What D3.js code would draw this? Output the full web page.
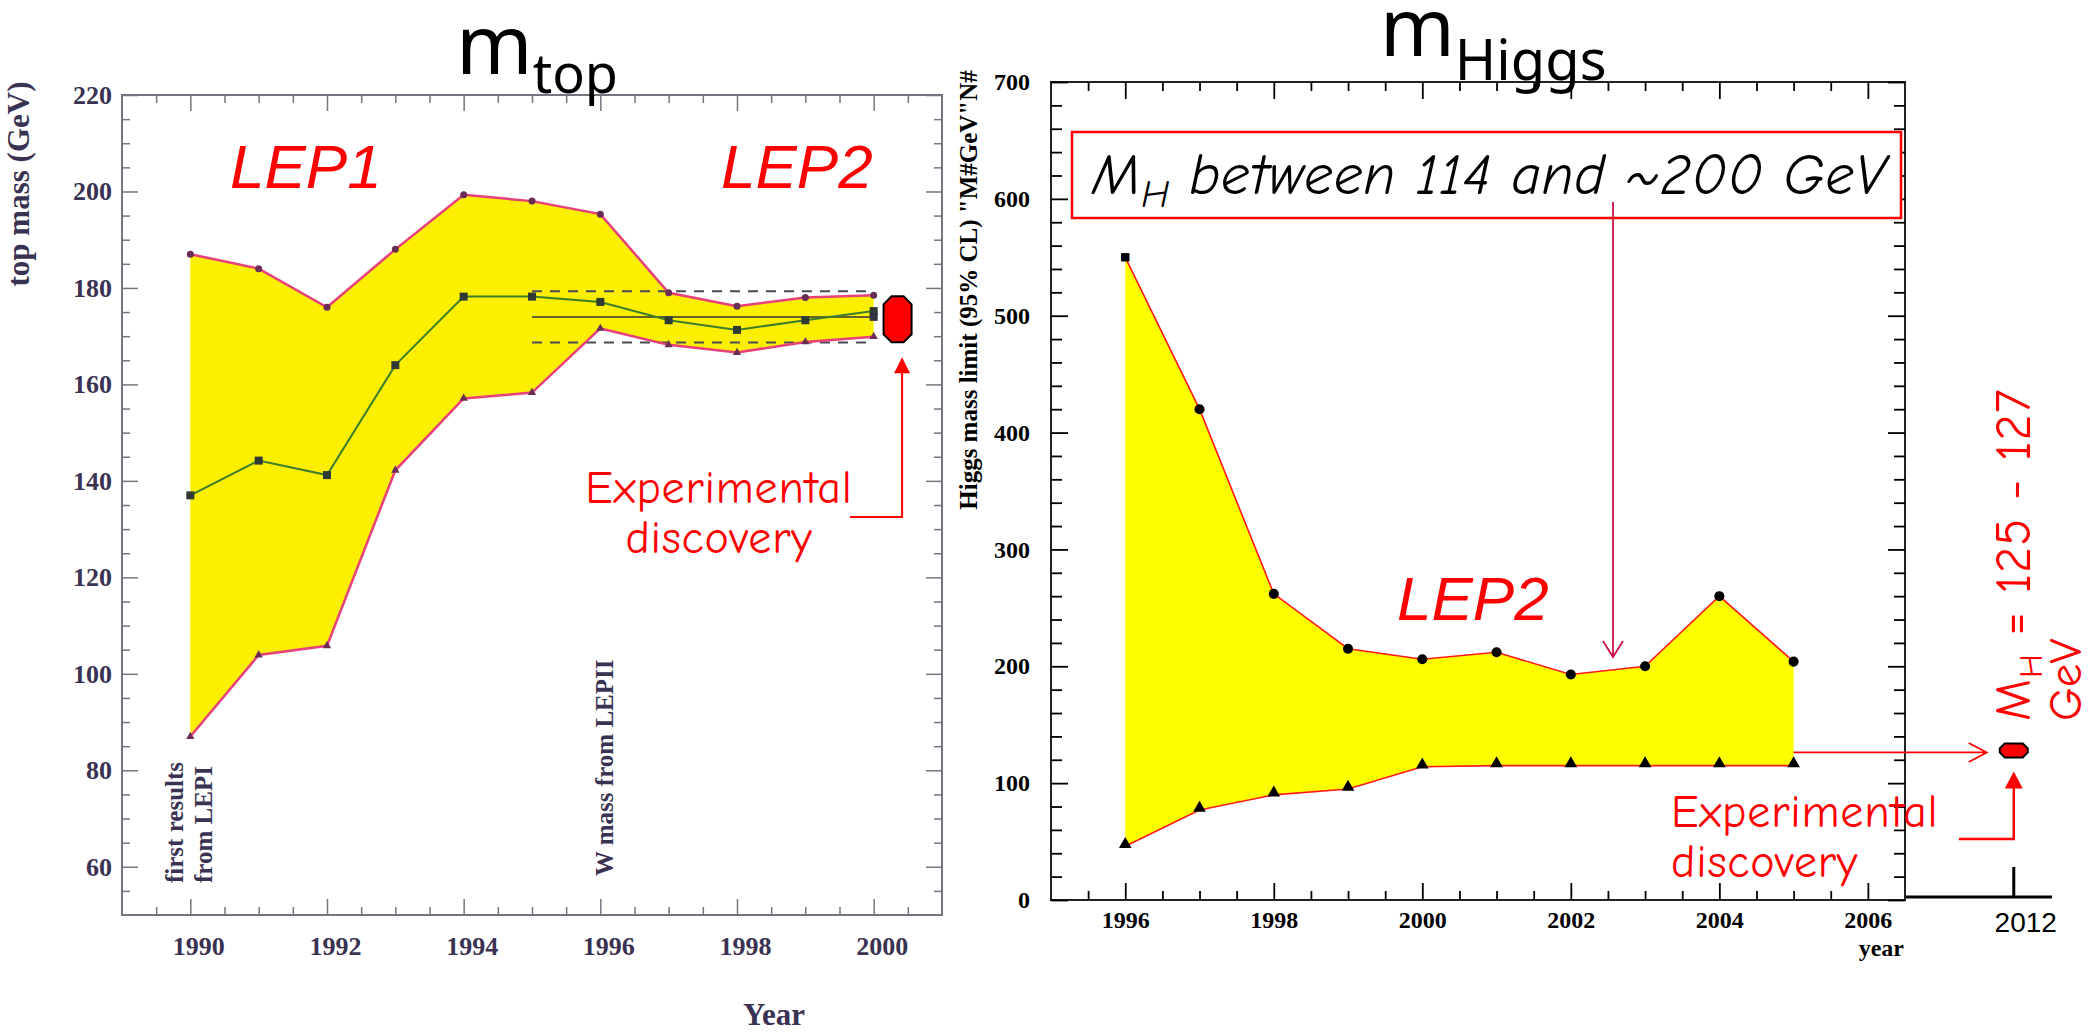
<!DOCTYPE html>
<html>
<head>
<meta charset="utf-8">
<script src="https://cdn.jsdelivr.net/npm/d3@7/dist/d3.min.js"></script>
<style>
  body { margin: 0; background: #fff; }
  svg { display: block; }
</style>
</head>
<body>
<svg id="chart" width="2095" height="1034"></svg>
<script>
// ---- m_top : LEP fits of the top mass ----
const topYears   = [1990, 1991, 1992, 1993, 1994, 1995, 1996, 1997, 1998, 1999, 2000]
const topUpper   = [187, 184, 176, 188, 199.3, 198, 195.3, 179, 176.2, 178, 178.5]
const topCentral = [137, 144.2, 141.2, 164, 178.2, 178.2, 177.1, 173.3, 171.3, 173.3, 175.2]
const topLower   = [87, 103.9, 105.8, 142.2, 157.1, 158.3, 171.6, 168.2, 166.6, 168.8, 169.9]
const topFitYears = [1995, 2000]
const topFitLow = 168.7, topFitMid = 174, topFitHigh = 179.3
const topMeasuredYear = 2000.35
const topMeasured = 173.5
const topYTicks = [60, 80, 100, 120, 140, 160, 180, 200, 220]
const topXTicks = [1990, 1992, 1994, 1996, 1998, 2000]

// ---- m_Higgs : allowed range per year ----
const higgsYears = [1996, 1997, 1998, 1999, 2000, 2001, 2002, 2003, 2004, 2005]
const higgsUpper = [550, 420, 262, 215, 206, 212, 193, 200, 260, 204]
const higgsLower = [46, 77, 90, 95, 114, 115, 115, 115, 115, 115]
const higgsYTicks = [0, 100, 200, 300, 400, 500, 600, 700]
const higgsXTicks = [1996, 1998, 2000, 2002, 2004, 2006]
const discoveryYear = 2012
const higgsMeasured = 128

const svg = d3.select("#chart")
const RED = "#ff0000"
const comic = "'Comic Sans MS','Comic Neue','Noto Sans',sans-serif"
const serif = "'Liberation Serif','Times New Roman',serif"
const sans = "'Noto Sans',sans-serif"

function octagon(cx, cy, w, h, c) {
  let x0 = cx - w/2, x1 = cx + w/2, y0 = cy - h/2, y1 = cy + h/2
  return "M" + (x0+c) + "," + y0 + "L" + (x1-c) + "," + y0 + "L" + x1 + "," + (y0+c) +
    "L" + x1 + "," + (y1-c) + "L" + (x1-c) + "," + y1 + "L" + (x0+c) + "," + y1 +
    "L" + x0 + "," + (y1-c) + "L" + x0 + "," + (y0+c) + "Z"
}

function styleAxis(g, color, width, font, size, weight, dx) {
  g.select(".domain").remove()
  g.selectAll("line").attr("stroke", color).attr("stroke-width", width)
  g.selectAll("text").attr("fill", color === "#000" ? "#000" : "#3a3252")
    .style("font-family", font).style("font-size", size + "px").style("font-weight", weight)
  if (dx) g.selectAll("text").attr("dx", dx)
}

function halfSteps(a, b) {
  let out = []
  for (let v = a; v <= b + 1e-9; v += 0.5) out.push(v)
  return out
}

// ================= LEFT: top mass =================
let xT = d3.scaleLinear().domain([1989, 2001]).range([122, 942])
let yT = d3.scaleLinear().domain([50, 220]).range([915, 95])
let axisGray = "#77737f"
let left = svg.append("g")

let topRows = topYears.map(function(yr, i) {
  return {year: yr, hi: topUpper[i], mid: topCentral[i], lo: topLower[i]}
})

// band
left.append("path").datum(topRows)
  .attr("fill", "#fdef00")
  .attr("d", d3.area().x(d => xT(d.year)).y0(d => yT(d.lo)).y1(d => yT(d.hi)))

// fit band dashed lines + central line
left.selectAll(".fitdash").data([topFitLow, topFitHigh]).enter().append("line")
  .attr("x1", xT(topFitYears[0])).attr("x2", xT(topFitYears[1]))
  .attr("y1", d => yT(d)).attr("y2", d => yT(d))
  .attr("stroke", "#4a4a55").attr("stroke-width", 2).attr("stroke-dasharray", "10,8")
left.append("line")
  .attr("x1", xT(topFitYears[0])).attr("x2", xT(topFitYears[1]))
  .attr("y1", yT(topFitMid)).attr("y2", yT(topFitMid))
  .attr("stroke", "#333").attr("stroke-width", 1.5)

// upper / lower limits
;["hi", "lo"].forEach(function(k) {
  left.append("path").datum(topRows)
    .attr("fill", "none").attr("stroke", "#e8407a").attr("stroke-width", 2.5)
    .attr("d", d3.line().x(d => xT(d.year)).y(d => yT(d[k])))
})
left.selectAll(".hiPt").data(topRows).enter().append("circle")
  .attr("cx", d => xT(d.year)).attr("cy", d => yT(d.hi)).attr("r", 3.5)
  .attr("fill", "#6a2d55")
left.selectAll(".loPt").data(topRows).enter().append("path")
  .attr("transform", d => "translate(" + xT(d.year) + "," + yT(d.lo) + ")")
  .attr("d", d3.symbol(d3.symbolTriangle).size(30))
  .attr("fill", "#6a2d55")

// central fit
left.append("path").datum(topRows)
  .attr("fill", "none").attr("stroke", "#3d7d2c").attr("stroke-width", 2)
  .attr("d", d3.line().x(d => xT(d.year)).y(d => yT(d.mid)))
left.selectAll(".midPt").data(topRows).enter().append("rect")
  .attr("x", d => xT(d.year) - 4).attr("y", d => yT(d.mid) - 4)
  .attr("width", 8).attr("height", 8).attr("fill", "#2f3a33")
left.append("rect")
  .attr("x", xT(topFitYears[1]) - 4).attr("y", yT(topFitMid) - 4)
  .attr("width", 8).attr("height", 8).attr("fill", "#2f3340")

// frame + axes
left.append("rect").attr("x", 122).attr("y", 95).attr("width", 820).attr("height", 820)
  .attr("fill", "none").attr("stroke", axisGray).attr("stroke-width", 2)

let xMinorT = halfSteps(1989.5, 2000.5).filter(v => topXTicks.indexOf(v) < 0)
let yMinorT = d3.range(55, 220, 5).filter(v => topYTicks.indexOf(v) < 0)

left.append("g").attr("transform", "translate(0,915)")
  .call(d3.axisBottom(xT).tickValues(xMinorT).tickSize(-8).tickFormat(""))
  .call(g => styleAxis(g, axisGray, 1.5))
left.append("g").attr("transform", "translate(0,915)")
  .call(d3.axisBottom(xT).tickValues(topXTicks).tickSize(-16).tickPadding(22).tickFormat(d3.format("d")))
  .call(g => styleAxis(g, axisGray, 1.5, serif, 26, "bold", 8))
left.append("g").attr("transform", "translate(0,95)")
  .call(d3.axisTop(xT).tickValues(xMinorT).tickSize(-8).tickFormat(""))
  .call(g => styleAxis(g, axisGray, 1.5))
left.append("g").attr("transform", "translate(0,95)")
  .call(d3.axisTop(xT).tickValues(topXTicks).tickSize(-16).tickFormat(""))
  .call(g => styleAxis(g, axisGray, 1.5))
left.append("g").attr("transform", "translate(122,0)")
  .call(d3.axisLeft(yT).tickValues(yMinorT).tickSize(-8).tickFormat(""))
  .call(g => styleAxis(g, axisGray, 1.5))
left.append("g").attr("transform", "translate(122,0)")
  .call(d3.axisLeft(yT).tickValues(topYTicks).tickSize(-16).tickPadding(10).tickFormat(d3.format("d")))
  .call(g => styleAxis(g, axisGray, 1.5, serif, 26, "bold"))
left.append("g").attr("transform", "translate(942,0)")
  .call(d3.axisRight(yT).tickValues(yMinorT).tickSize(-8).tickFormat(""))
  .call(g => styleAxis(g, axisGray, 1.5))
left.append("g").attr("transform", "translate(942,0)")
  .call(d3.axisRight(yT).tickValues(topYTicks).tickSize(-16).tickFormat(""))
  .call(g => styleAxis(g, axisGray, 1.5))

// axis titles
left.append("text").attr("transform", "translate(29,184) rotate(-90)")
  .attr("text-anchor", "middle").attr("fill", "#3a3252")
  .style("font-family", serif).style("font-size", "31px").style("font-weight", "bold")
  .text("top mass (GeV)")
left.append("text").attr("x", 774).attr("y", 1025).attr("text-anchor", "middle")
  .attr("fill", "#3a3252")
  .style("font-family", serif).style("font-size", "31px").style("font-weight", "bold")
  .text("Year")

// vertical notes
;[["first results", 183], ["from LEPI", 212]].forEach(function(t) {
  left.append("text").attr("transform", "translate(" + t[1] + ",883) rotate(-90)")
    .attr("fill", "#3a3252")
    .style("font-family", serif).style("font-size", "25px").style("font-weight", "bold")
    .text(t[0])
})
left.append("text").attr("transform", "translate(613,876) rotate(-90)")
  .attr("fill", "#3a3252")
  .style("font-family", serif).style("font-size", "25px").style("font-weight", "bold")
  .text("W mass from LEPII")

// title
let t1 = left.append("text").attr("x", 456).attr("y", 74).attr("fill", "#000")
  .style("font-family", sans)
t1.append("tspan").style("font-size", "82px").text("m")
t1.append("tspan").attr("dy", 19).style("font-size", "54px").text("top")

// LEP labels
;[["LEP1", 230], ["LEP2", 721]].forEach(function(t) {
  left.append("text").attr("x", t[1]).attr("y", 188).attr("fill", RED)
    .style("font-family", "'Liberation Sans',Arial,sans-serif")
    .style("font-size", "62px").style("font-style", "italic")
    .text(t[0])
})

// measured top mass + arrow
let tmx = xT(topMeasuredYear), tmy = yT(topMeasured)
left.append("path").attr("d", octagon(tmx, tmy, 28, 46, 8))
  .attr("fill", RED).attr("stroke", "#000").attr("stroke-width", 2)
left.append("path")
  .attr("d", "M850,517H" + (tmx + 4.5) + "V" + (tmy + 52))
  .attr("fill", "none").attr("stroke", RED).attr("stroke-width", 2)
left.append("path")
  .attr("d", "M" + (tmx + 4.5) + "," + (tmy + 38) + "l-8,16h16z")
  .attr("fill", RED)
left.append("text").attr("x", 719).attr("y", 503).attr("text-anchor", "middle")
  .attr("fill", RED).style("font-family", comic).style("font-size", "46px")
  .style("letter-spacing", "0.8px")
  .text("Experimental")
left.append("text").attr("x", 719).attr("y", 553).attr("text-anchor", "middle")
  .attr("fill", RED).style("font-family", comic).style("font-size", "46px")
  .style("letter-spacing", "0.8px")
  .text("discovery")

// ================= RIGHT: Higgs mass =================
let xH = d3.scaleLinear().domain([1995, 2006.5]).range([1051, 1905])
let yH = d3.scaleLinear().domain([0, 700]).range([900, 82])
let x12 = d3.scaleLinear().domain([2010.45, 2012.55]).range([1906, 2052])
let right = svg.append("g")

let higgsRows = higgsYears.map(function(yr, i) {
  return {year: yr, hi: higgsUpper[i], lo: higgsLower[i]}
})

right.append("path").datum(higgsRows)
  .attr("fill", "#ffff00")
  .attr("d", d3.area().x(d => xH(d.year)).y0(d => yH(d.lo)).y1(d => yH(d.hi)))
;["hi", "lo"].forEach(function(k) {
  right.append("path").datum(higgsRows)
    .attr("fill", "none").attr("stroke", "#ff1a1a").attr("stroke-width", 1.6)
    .attr("d", d3.line().x(d => xH(d.year)).y(d => yH(d[k])))
})
right.selectAll(".hHi").data(higgsRows).enter().append("path")
  .attr("transform", d => "translate(" + xH(d.year) + "," + yH(d.hi) + ")")
  .attr("d", (d, i) => d3.symbol(i === 0 ? d3.symbolSquare : d3.symbolCircle).size(i === 0 ? 70 : 80)())
  .attr("fill", "#000")
right.selectAll(".hLo").data(higgsRows).enter().append("path")
  .attr("transform", d => "translate(" + xH(d.year) + "," + (yH(d.lo) - 2) + ")")
  .attr("d", d3.symbol(d3.symbolTriangle).size(70))
  .attr("fill", "#000")

right.append("rect").attr("x", 1051).attr("y", 82).attr("width", 854).attr("height", 818)
  .attr("fill", "none").attr("stroke", "#222").attr("stroke-width", 2)

let hxMinor = halfSteps(1995.5, 2006).filter(v => higgsXTicks.indexOf(v) < 0)
let hyMinor = d3.range(20, 700, 20).filter(v => higgsYTicks.indexOf(v) < 0)

right.append("g").attr("transform", "translate(0,900)")
  .call(d3.axisBottom(xH).tickValues(hxMinor).tickSize(-9).tickFormat(""))
  .call(g => styleAxis(g, "#000", 1.8))
right.append("g").attr("transform", "translate(0,900)")
  .call(d3.axisBottom(xH).tickValues(higgsXTicks).tickSize(-17).tickPadding(11).tickFormat(d3.format("d")))
  .call(g => styleAxis(g, "#000", 1.8, serif, 24, "bold"))
right.append("g").attr("transform", "translate(0,82)")
  .call(d3.axisTop(xH).tickValues(hxMinor).tickSize(-9).tickFormat(""))
  .call(g => styleAxis(g, "#000", 1.8))
right.append("g").attr("transform", "translate(0,82)")
  .call(d3.axisTop(xH).tickValues(higgsXTicks).tickSize(-17).tickFormat(""))
  .call(g => styleAxis(g, "#000", 1.8))
right.append("g").attr("transform", "translate(1051,0)")
  .call(d3.axisLeft(yH).tickValues(hyMinor).tickSize(-11).tickFormat(""))
  .call(g => styleAxis(g, "#000", 1.8))
right.append("g").attr("transform", "translate(1051,0)")
  .call(d3.axisLeft(yH).tickValues(higgsYTicks).tickSize(-17).tickPadding(21).tickFormat(d3.format("d")))
  .call(g => styleAxis(g, "#000", 1.8, serif, 24, "bold"))
right.append("g").attr("transform", "translate(1905,0)")
  .call(d3.axisRight(yH).tickValues(hyMinor).tickSize(-11).tickFormat(""))
  .call(g => styleAxis(g, "#000", 1.8))
right.append("g").attr("transform", "translate(1905,0)")
  .call(d3.axisRight(yH).tickValues(higgsYTicks).tickSize(-17).tickFormat(""))
  .call(g => styleAxis(g, "#000", 1.8))

right.append("text").attr("x", 1904).attr("y", 956).attr("text-anchor", "end")
  .attr("fill", "#000").style("font-family", serif).style("font-size", "24px").style("font-weight", "bold")
  .text("year")
right.append("text").attr("transform", "translate(977,290) rotate(-90)")
  .attr("text-anchor", "middle").attr("fill", "#000")
  .style("font-family", serif).style("font-size", "25px").style("font-weight", "bold")
  .text("Higgs mass limit (95% CL) \"M#GeV\"N#")

// title
let t2 = right.append("text").attr("x", 1380).attr("y", 56).attr("fill", "#000")
  .style("font-family", sans)
t2.append("tspan").style("font-size", "80px").text("m")
t2.append("tspan").attr("dy", 24).style("font-size", "56px").text("Higgs")

// range box with arrow
right.append("rect").attr("x", 1072).attr("y", 132).attr("width", 829).attr("height", 86)
  .attr("fill", "#fff").attr("stroke", RED).attr("stroke-width", 2.5)
let bt = right.append("text").attr("x", 1092).attr("y", 194).attr("fill", "#000")
  .style("font-family", comic).style("font-style", "italic").style("font-size", "58px")
  .style("letter-spacing", "0.5px")
bt.append("tspan").text("M")
bt.append("tspan").attr("dy", 13).style("font-size", "38px").text("H")
bt.append("tspan").attr("dy", -13).text(" between 114 and ~200 GeV")

right.append("path").attr("d", "M1613,202V657M1603,641L1613,657L1623,641")
  .attr("fill", "none").attr("stroke", "#cc1144").attr("stroke-width", 1.8)

right.append("text").attr("x", 1397).attr("y", 620).attr("fill", RED)
  .style("font-family", "'Liberation Sans',Arial,sans-serif")
  .style("font-size", "62px").style("font-style", "italic")
  .text("LEP2")

// 2012 extension
let hmy = yH(higgsMeasured), hmx = x12(discoveryYear)
right.append("line").attr("x1", 1906).attr("x2", 2052).attr("y1", 897).attr("y2", 897)
  .attr("stroke", "#000").attr("stroke-width", 3)
right.append("line").attr("x1", hmx).attr("x2", hmx).attr("y1", 867).attr("y2", 896)
  .attr("stroke", "#000").attr("stroke-width", 3)
right.append("text").attr("x", hmx + 12).attr("y", 932).attr("text-anchor", "middle")
  .attr("fill", "#000").style("font-family", "'Liberation Sans',Arial,sans-serif").style("font-size", "28px")
  .text(String(discoveryYear))

right.append("path").attr("d", "M" + xH(2005) + "," + (hmy + 2) + "H" + (hmx - 27) +
    "M" + (hmx - 45) + "," + (hmy - 7.5) + "L" + (hmx - 27) + "," + (hmy + 2) + "L" + (hmx - 45) + "," + (hmy + 11.5))
  .attr("fill", "none").attr("stroke", RED).attr("stroke-width", 1.8)
right.append("path").attr("d", octagon(hmx, hmy, 28, 14, 5))
  .attr("fill", RED).attr("stroke", "#000").attr("stroke-width", 2)

right.append("path").attr("d", "M1959,839H" + hmx + "V" + (hmy + 34))
  .attr("fill", "none").attr("stroke", RED).attr("stroke-width", 2.5)
right.append("path").attr("d", "M" + hmx + "," + (hmy + 21) + "l-9,17h18z").attr("fill", RED)

right.append("text").attr("x", 1671).attr("y", 827).attr("fill", RED)
  .style("font-family", comic).style("font-size", "46px").style("letter-spacing", "0.8px")
  .text("Experimental")
right.append("text").attr("x", 1671).attr("y", 877).attr("fill", RED)
  .style("font-family", comic).style("font-size", "46px").style("letter-spacing", "0.8px")
  .text("discovery")

let rt = right.append("text").attr("transform", "translate(2030,721) rotate(-90)")
  .attr("fill", RED).style("font-family", comic).style("font-size", "50px")
  .style("letter-spacing", "1px")
rt.append("tspan").text("M")
rt.append("tspan").attr("dy", 12).style("font-size", "33px").text("H")
rt.append("tspan").attr("dy", -12).text(" = 125 - 127")
right.append("text").attr("transform", "translate(2081,721) rotate(-90)")
  .attr("fill", RED).style("font-family", comic).style("font-size", "47px").text("GeV")
</script>
</body>
</html>
